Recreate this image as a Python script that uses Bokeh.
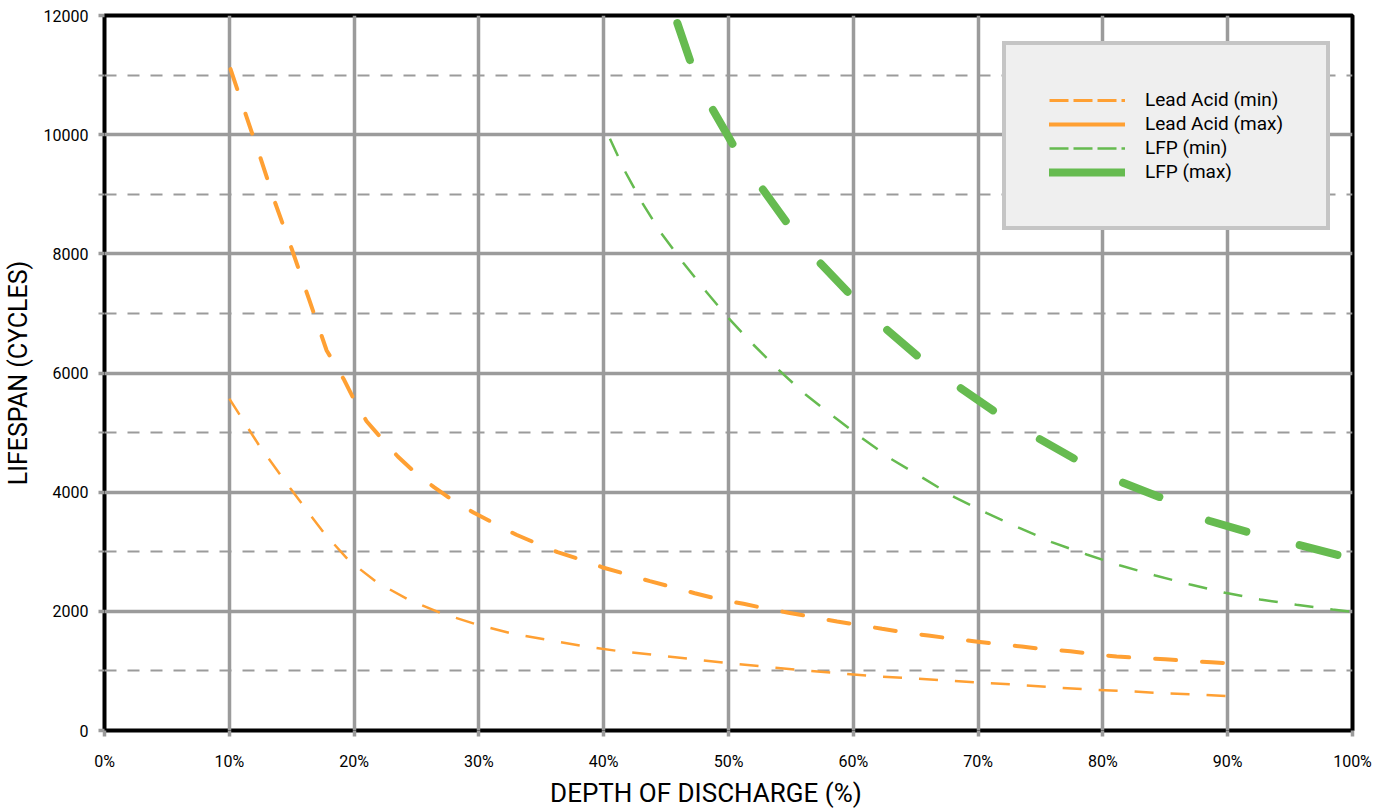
from bokeh.plotting import figure
from bokeh.models import Range1d, FixedTicker, PrintfTickFormatter, Legend, LegendItem
from bokeh.embed import file_html
from bokeh.resources import INLINE

# ---- data ----
dod_la_min = [10.0, 12.4, 14.9, 17.6, 19.6, 21.8, 24.4, 27.1, 29.8, 32.6, 35.5, 38.4, 41.3, 44.2,
              47.0, 49.8, 52.8, 55.7, 58.7, 61.6, 64.6, 67.4, 70.3, 73.2, 76.2, 79.0, 81.9, 84.9,
              87.7, 90.6]
cyc_la_min = [5570, 4780, 4060, 3310, 2850, 2490, 2190, 1960, 1780, 1630, 1520, 1415, 1330, 1265,
              1200, 1135, 1075, 1015, 962, 912, 878, 839, 800, 767, 722, 688, 660, 626,
              604, 571]

dod_la_max = [10.1, 11.3, 12.5, 13.7, 15.0, 16.4, 17.8, 19.2, 20.1, 21.0, 22.3, 23.5, 25.0, 26.4,
              28.0, 29.6, 31.4, 33.0, 34.7, 36.3, 38.4, 40.0, 42.0, 43.7, 45.7, 47.3, 49.3, 51.2,
              53.1, 54.8, 56.8, 58.7, 60.4, 62.3, 64.3, 66.0, 68.0, 69.8, 71.8, 73.5, 75.5, 77.4,
              79.4, 81.1, 83.1, 85.0, 86.9, 88.7, 90.7]
cyc_la_max = [11100, 10350, 9606, 8840, 8085, 7230, 6378, 5886, 5510, 5191, 4879, 4599, 4308, 4084,
              3849, 3654, 3458, 3285, 3134, 2993, 2853, 2731, 2613, 2506, 2395, 2304, 2199, 2126,
              2042, 1976, 1902, 1829, 1774, 1707, 1640, 1594, 1539, 1494, 1443, 1410, 1360, 1331,
              1276, 1242, 1214, 1197, 1163, 1146, 1119]

dod_lfp_min = [40.5, 41.7, 43.1, 44.6, 46.4, 48.2, 50.0, 52.0, 54.0, 56.2, 58.5, 60.7, 63.1, 65.6,
               68.1, 70.7, 73.3, 75.9, 78.7, 81.4, 84.2, 87.0, 89.8, 92.6, 95.5, 98.4, 100.0]
cyc_lfp_min = [9930, 9388, 8850, 8347, 7843, 7368, 6921, 6474, 6055, 5634, 5258, 4907, 4549, 4235,
               3916, 3648, 3402, 3161, 2954, 2769, 2601, 2450, 2311, 2199, 2109, 2031, 1990]

dod_lfp_max = [45.9, 47.1, 48.7, 50.6, 52.7, 54.9, 57.4, 60.0, 62.7, 65.5, 68.6, 71.7, 74.9, 78.1,
               81.5, 85.0, 88.5, 92.0, 96.0, 100.0]
cyc_lfp_max = [11872, 11133, 10435, 9746, 9097, 8459, 7833, 7262, 6725, 6222, 5745, 5299, 4896, 4515,
               4168, 3880, 3520, 3306, 3100, 2880]

series_names = ["Lead Acid (min)", "Lead Acid (max)", "LFP (min)", "LFP (max)"]
x_title = "DEPTH OF DISCHARGE (%)"
y_title = "LIFESPAN (CYCLES)"
x_ticks = [0, 10, 20, 30, 40, 50, 60, 70, 80, 90, 100]
y_ticks = [0, 2000, 4000, 6000, 8000, 10000, 12000]
y_minor = [1000, 3000, 5000, 7000, 9000, 11000]

ORANGE = "#FFA033"
GREEN = "#66BB50"
GRAY = "#9B9B9B"
FONT = "Roboto"

p = figure(width=1377, height=810, output_backend="svg", toolbar_location=None,
           x_range=Range1d(0, 100), y_range=Range1d(0, 12000),
           min_border_left=97, min_border_right=25, min_border_top=15, min_border_bottom=80)

p.background_fill_color = "white"
p.border_fill_color = "white"
p.outline_line_color = "black"
p.outline_line_width = 4

# grid
p.xgrid.ticker = FixedTicker(ticks=x_ticks)
p.ygrid.ticker = FixedTicker(ticks=y_ticks, minor_ticks=y_minor)
p.xgrid.grid_line_color = GRAY
p.xgrid.grid_line_width = 3.5
p.ygrid.grid_line_color = GRAY
p.ygrid.grid_line_width = 3.5
p.ygrid.minor_grid_line_color = GRAY
p.ygrid.minor_grid_line_width = 2
p.ygrid.minor_grid_line_dash = "12 11"

# axes
p.xaxis.ticker = FixedTicker(ticks=x_ticks, minor_ticks=[])
p.yaxis.ticker = FixedTicker(ticks=y_ticks, minor_ticks=y_minor)
p.xaxis.formatter = PrintfTickFormatter(format="%d%%")
for ax in (p.xaxis[0], p.yaxis[0]):
    ax.axis_line_color = None
    ax.major_tick_line_color = GRAY
    ax.major_tick_line_width = 3.5
    ax.major_tick_out = 6
    ax.major_tick_in = 0
    ax.minor_tick_line_color = GRAY
    ax.minor_tick_line_width = 2
    ax.minor_tick_out = 6
    ax.minor_tick_in = 0
    ax.major_label_text_font = FONT
    ax.major_label_text_font_size = "16px"
    ax.major_label_text_color = "black"
    ax.axis_label_text_font = FONT
    ax.axis_label_text_font_size = "25px"
    ax.axis_label_text_font_style = "normal"
    ax.axis_label_text_color = "black"

# the reference's x title sits a little left of the frame centre: pad with non-breaking spaces
p.xaxis.axis_label = x_title + "\u00a0" * 7
p.xaxis.axis_label_text_font_size = "26px"
p.yaxis.axis_label = y_title
p.xaxis.major_label_standoff = 15
p.xaxis.axis_label_standoff = 4
p.yaxis.major_label_standoff = 10
p.yaxis.axis_label_standoff = 8

# curves as drawn in the chart
p.line(dod_la_min, cyc_la_min, line_color=ORANGE, line_width=2.5, line_dash="19 17")
p.line(dod_la_max, cyc_la_max, line_color=ORANGE, line_width=4, line_dash="21 26", line_cap="round")
p.line(dod_lfp_min, cyc_lfp_min, line_color=GREEN, line_width=2.5, line_dash="19 17")
p.line(dod_lfp_max, cyc_lfp_max, line_color=GREEN, line_width=8, line_dash="39 55", line_cap="round")

# legend glyphs (styled as in the reference legend; single points draw nothing in the plot)
lg1 = p.line(dod_la_min[:1], cyc_la_min[:1], line_color=ORANGE, line_width=3, line_dash="19 5")
lg2 = p.line(dod_la_max[:1], cyc_la_max[:1], line_color=ORANGE, line_width=4, line_cap="round")
lg3 = p.line(dod_lfp_min[:1], cyc_lfp_min[:1], line_color=GREEN, line_width=2.5, line_dash="19 5")
lg4 = p.line(dod_lfp_max[:1], cyc_lfp_max[:1], line_color=GREEN, line_width=8, line_cap="round")

legend = Legend(items=[LegendItem(label=series_names[0], renderers=[lg1]),
                       LegendItem(label=series_names[1], renderers=[lg2]),
                       LegendItem(label=series_names[2], renderers=[lg3]),
                       LegendItem(label=series_names[3], renderers=[lg4])],
                location=(898, 500))
legend.padding = 43
legend.spacing = 1
legend.margin = 0
legend.glyph_width = 76
legend.glyph_height = 20
legend.label_height = 20
legend.label_width = 138
legend.label_standoff = 20
legend.label_text_font = FONT
legend.label_text_font_size = "19px"
legend.label_text_color = "black"
legend.border_line_color = GRAY
legend.border_line_width = 4
legend.background_fill_color = "#EFEFEF"
legend.background_fill_alpha = 1
p.add_layout(legend, "center")

open("out.html", "w").write(file_html(p, INLINE))
